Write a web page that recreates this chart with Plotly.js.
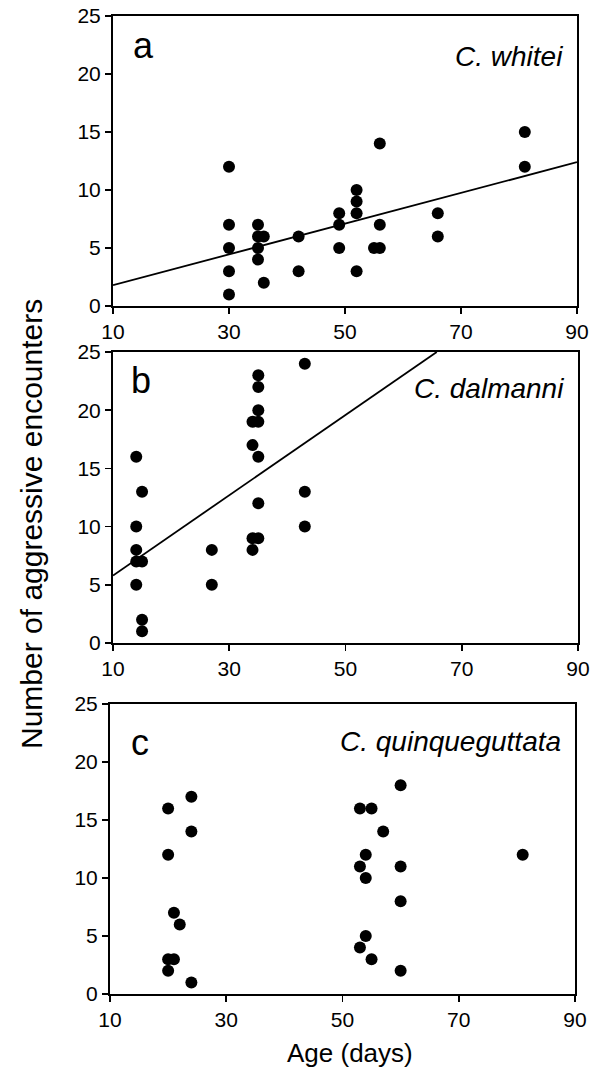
<!DOCTYPE html>
<html>
<head>
<meta charset="utf-8">
<script src="https://cdn.plot.ly/plotly-3.0.1.min.js"></script>
<style>html,body{margin:0;padding:0;background:#fff;}#chart{width:599px;height:1073px;}</style>
</head>
<body>
<div id="chart"></div>
<script>
// Panel a: C. whitei
const whiteiAge = [30,30,30,30,30,35,35,36,35,35,36,42,42,49,49,49,52,52,52,52,56,56,55,56,66,66,81,81];
const whiteiAgg = [12,7,5,3,1,7,6,6,5,4,2,6,3,8,7,5,10,9,8,3,14,7,5,5,8,6,15,12];
const whiteiFitX = [10,90];
const whiteiFitY = [1.8,12.4];

// Panel b: C. dalmanni
const dalmanniAge = [14,14,14,14,15,14,15,15,15,27,27,34,35,34,35,35,35,35,35,34,35,34,43,43,43];
const dalmanniAgg = [16,10,8,7,7,5,13,2,1,8,5,19,19,17,23,22,20,16,12,9,9,8,24,13,10];
const dalmanniFitX = [10,65.7];
const dalmanniFitY = [5.8,25];

// Panel c: C. quinqueguttata
const quinqAge = [20,20,20,20,21,21,22,24,24,24,53,55,57,54,53,54,54,53,55,60,60,60,60,81];
const quinqAgg = [16,12,3,2,3,7,6,17,14,1,16,16,14,12,11,10,5,4,3,18,11,8,2,12];

const panelLetters = ['a','b','c'];
const speciesNames = ['C. whitei','C. dalmanni','C. quinqueguttata'];
const xTicks = [10,30,50,70,90];
const yTicks = [0,5,10,15,20,25];
const xTitle = 'Age (days)';
const yTitle = 'Number of aggressive encounters';

const W = 599, H = 1073;
const FONT = 'Liberation Sans, Arial, Helvetica, sans-serif';
// pixel boxes [left, right, top, bottom]
const boxes = [[113,577,16,306],[113,578,352,643],[110,575,704,994]];

const marker = {color:'#000', size:12, line:{width:0}};
const traces = [
  {x:whiteiAge, y:whiteiAgg, xaxis:'x', yaxis:'y', mode:'markers', type:'scatter', marker:marker},
  {x:whiteiFitX, y:whiteiFitY, xaxis:'x', yaxis:'y', mode:'lines', type:'scatter', line:{color:'#000', width:1.8}},
  {x:dalmanniAge, y:dalmanniAgg, xaxis:'x2', yaxis:'y2', mode:'markers', type:'scatter', marker:marker},
  {x:dalmanniFitX, y:dalmanniFitY, xaxis:'x2', yaxis:'y2', mode:'lines', type:'scatter', line:{color:'#000', width:1.8}},
  {x:quinqAge, y:quinqAgg, xaxis:'x3', yaxis:'y3', mode:'markers', type:'scatter', marker:marker}
];

function xa(i){
  const b = boxes[i];
  return {domain:[b[0]/W, b[1]/W], range:[10,90], tickvals:xTicks, ticktext:xTicks.map(String),
    ticks:'outside', ticklen:6, tickwidth:1.6, tickcolor:'#000', showline:true, linecolor:'#000', linewidth:2,
    mirror:true, showgrid:false, zeroline:false, tickfont:{family:FONT, size:21, color:'#000'},
    anchor:'y'+(i?i+1:''), fixedrange:true};
}
function ya(i){
  const b = boxes[i];
  return {domain:[1-b[3]/H, 1-b[2]/H], range:[0,25], tickvals:yTicks, ticktext:yTicks.map(String),
    ticks:'outside', ticklen:6, tickwidth:1.6, tickcolor:'#000', showline:true, linecolor:'#000', linewidth:2,
    mirror:true, showgrid:false, zeroline:false, tickfont:{family:FONT, size:21, color:'#000'},
    anchor:'x'+(i?i+1:''), fixedrange:true};
}

const annotations = [];
const letterOffsetX = [30,28,30];
const letterOffsetY = [29,28,38];
const speciesOffsetY = [40,36,37];
for (let i=0;i<3;i++){
  const b = boxes[i];
  const xs = i?String(i+1):'';
  const h = b[3]-b[2], w = b[1]-b[0];
  annotations.push({xref:'x'+xs+' domain', yref:'y'+xs+' domain', x:letterOffsetX[i]/w, y:1-letterOffsetY[i]/h,
    text:panelLetters[i], showarrow:false, xanchor:'center', yanchor:'middle',
    font:{family:FONT, size:36, color:'#000'}});
  annotations.push({xref:'x'+xs+' domain', yref:'y'+xs+' domain', x:(w-12)/w, y:1-speciesOffsetY[i]/h,
    text:'<i>'+speciesNames[i]+'</i>', showarrow:false, xanchor:'right', yanchor:'middle',
    font:{family:FONT, size:28, color:'#000'}});
}
annotations.push({xref:'paper', yref:'paper', x:31/W, y:1-524/H, text:yTitle, textangle:-90,
  showarrow:false, xanchor:'center', yanchor:'middle', font:{family:FONT, size:30, color:'#000'}});
annotations.push({xref:'paper', yref:'paper', x:350/W, y:1-1053/H, text:xTitle,
  showarrow:false, xanchor:'center', yanchor:'middle', font:{family:FONT, size:26, color:'#000'}});

const layout = {
  width:W, height:H, margin:{l:0,r:0,t:0,b:0}, showlegend:false,
  paper_bgcolor:'#fff', plot_bgcolor:'#fff',
  xaxis:xa(0), yaxis:ya(0), xaxis2:xa(1), yaxis2:ya(1), xaxis3:xa(2), yaxis3:ya(2),
  annotations:annotations
};
Plotly.newPlot('chart', traces, layout, {displayModeBar:false, staticPlot:true});
</script>
</body>
</html>
